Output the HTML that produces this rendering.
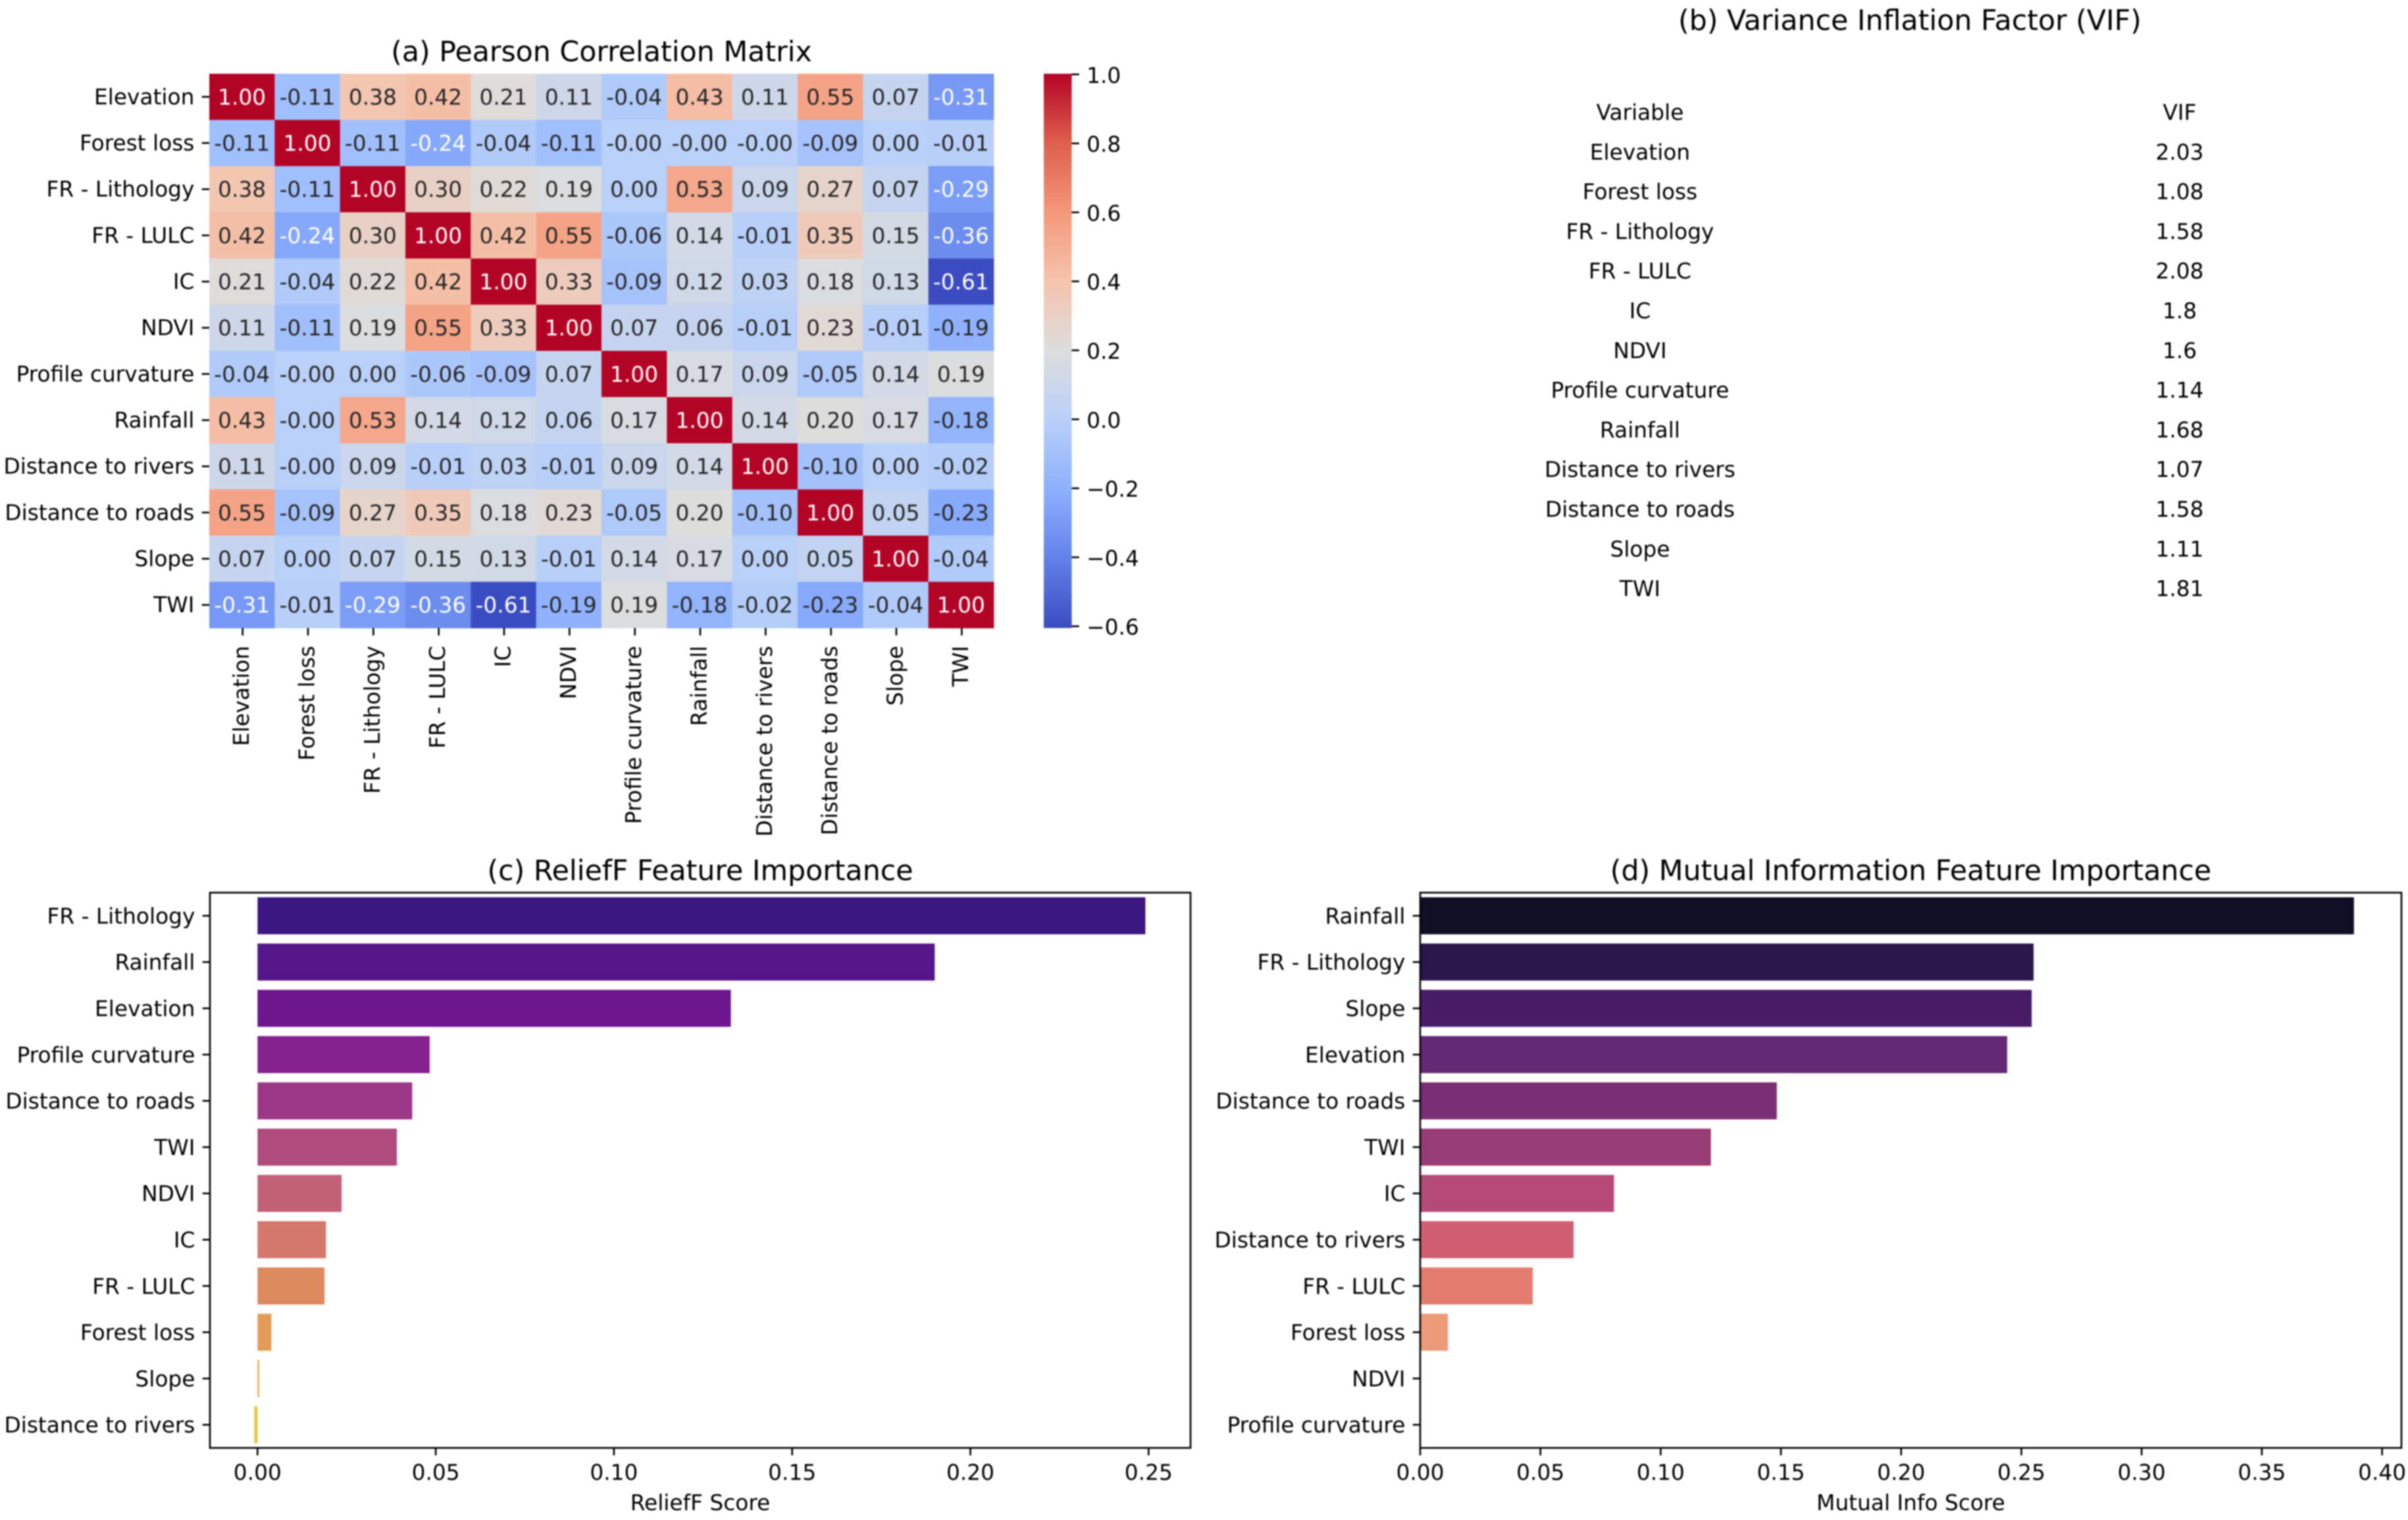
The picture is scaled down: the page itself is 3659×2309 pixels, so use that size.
<!DOCTYPE html>
<html lang="en">
<head>
<meta charset="utf-8">
<title>Feature selection diagnostics</title>
<style>
  html, body { margin: 0; padding: 0; background: #ffffff; }
  #figure { display: block; width: 3659px; height: 2309px; filter: blur(1px); }
  text { font-family: "DejaVu Sans", "Liberation Sans", sans-serif; fill: #000000; }
</style>
</head>
<body>
<svg id="figure" xmlns="http://www.w3.org/2000/svg" width="3659" height="2309" viewBox="0 0 3659 2309">
  <rect x="0" y="0" width="3659" height="2309" fill="#ffffff"/>
  <defs>
    <linearGradient id="coolwarm-gradient" x1="0" y1="1" x2="0" y2="0"></linearGradient>
  </defs>
  <g id="panel-a">
    <text x="914" y="93" font-size="42.7" text-anchor="middle">(a) Pearson Correlation Matrix</text>
  </g>
  <g id="panel-b">
    <text x="2902" y="45.5" font-size="42.7" text-anchor="middle">(b) Variance Inflation Factor (VIF)</text>
  </g>
  <g id="panel-c">
    <text x="1064" y="1337" font-size="42.7" text-anchor="middle">(c) ReliefF Feature Importance</text>
    <text x="1064" y="2294" font-size="32.8" text-anchor="middle">ReliefF Score</text>
  </g>
  <g id="panel-d">
    <text x="2903.5" y="1337" font-size="42.7" text-anchor="middle">(d) Mutual Information Feature Importance</text>
    <text x="2903.5" y="2294" font-size="32.8" text-anchor="middle">Mutual Info Score</text>
  </g>
</svg>
<script>
// ---------- Data ----------
const heatmapLabels = ["Elevation", "Forest loss", "FR - Lithology", "FR - LULC", "IC", "NDVI", "Profile curvature", "Rainfall", "Distance to rivers", "Distance to roads", "Slope", "TWI"];
const corrElevation = [1.00, -0.11, 0.38, 0.42, 0.21, 0.11, -0.04, 0.43, 0.11, 0.55, 0.07, -0.31];
const corrForestLoss = [-0.11, 1.00, -0.11, -0.24, -0.04, -0.11, -0.001, -0.001, -0.001, -0.09, 0.00, -0.01];
const corrLithology = [0.38, -0.11, 1.00, 0.30, 0.22, 0.19, 0.00, 0.53, 0.09, 0.27, 0.07, -0.29];
const corrLulc = [0.42, -0.24, 0.30, 1.00, 0.42, 0.55, -0.06, 0.14, -0.01, 0.35, 0.15, -0.36];
const corrIc = [0.21, -0.04, 0.22, 0.42, 1.00, 0.33, -0.09, 0.12, 0.03, 0.18, 0.13, -0.607];
const corrNdvi = [0.11, -0.11, 0.19, 0.55, 0.33, 1.00, 0.07, 0.06, -0.01, 0.23, -0.01, -0.19];
const corrProfile = [-0.04, -0.001, 0.00, -0.06, -0.09, 0.07, 1.00, 0.17, 0.09, -0.05, 0.14, 0.19];
const corrRainfall = [0.43, -0.001, 0.53, 0.14, 0.12, 0.06, 0.17, 1.00, 0.14, 0.20, 0.17, -0.18];
const corrRivers = [0.11, -0.001, 0.09, -0.01, 0.03, -0.01, 0.09, 0.14, 1.00, -0.10, 0.00, -0.02];
const corrRoads = [0.55, -0.09, 0.27, 0.35, 0.18, 0.23, -0.05, 0.20, -0.10, 1.00, 0.05, -0.23];
const corrSlope = [0.07, 0.00, 0.07, 0.15, 0.13, -0.01, 0.14, 0.17, 0.00, 0.05, 1.00, -0.04];
const corrTwi = [-0.31, -0.01, -0.29, -0.36, -0.607, -0.19, 0.19, -0.18, -0.02, -0.23, -0.04, 1.00];
const corrMatrix = [corrElevation, corrForestLoss, corrLithology, corrLulc, corrIc, corrNdvi, corrProfile, corrRainfall, corrRivers, corrRoads, corrSlope, corrTwi];
const colorbarTicks = [1.0, 0.8, 0.6, 0.4, 0.2, 0.0, -0.2, -0.4, -0.6];

const vifVariables = ["Elevation", "Forest loss", "FR - Lithology", "FR - LULC", "IC", "NDVI", "Profile curvature", "Rainfall", "Distance to rivers", "Distance to roads", "Slope", "TWI"];
const vifValues = [2.03, 1.08, 1.58, 2.08, 1.8, 1.6, 1.14, 1.68, 1.07, 1.58, 1.11, 1.81];

const reliefFeatures = ["FR - Lithology", "Rainfall", "Elevation", "Profile curvature", "Distance to roads", "TWI", "NDVI", "IC", "FR - LULC", "Forest loss", "Slope", "Distance to rivers"];
const reliefScores = [0.2491, 0.1900, 0.1328, 0.0483, 0.0434, 0.0391, 0.0236, 0.0192, 0.0188, 0.0039, 0.0005, -0.0009];
const reliefTicks = [0.00, 0.05, 0.10, 0.15, 0.20, 0.25];

const miFeatures = ["Rainfall", "FR - Lithology", "Slope", "Elevation", "Distance to roads", "TWI", "IC", "Distance to rivers", "FR - LULC", "Forest loss", "NDVI", "Profile curvature"];
const miScores = [0.3883, 0.2551, 0.2543, 0.2441, 0.1483, 0.1209, 0.0806, 0.0638, 0.0468, 0.0115, 0, 0];
const miTicks = [0.00, 0.05, 0.10, 0.15, 0.20, 0.25, 0.30, 0.35, 0.40];

// ---------- Colours ----------
const coolwarmStops = [[59,76,192],[98,130,234],[141,176,254],[184,208,249],[221,221,221],[245,196,173],[244,152,122],[222,96,77],[180,4,38]];
const reliefPalette = ["#3c1781","#55168a","#6d168e","#84218c","#9c3785","#af4b7d","#c16177","#d4776d","#dc8960","#e19d57","#e6b34e","#e2c63f"];
const miPalette = ["#100f25","#2b174a","#481c66","#632874","#7b2f74","#993b75","#b54a75","#d05e70","#e27c6e","#ec9a78","#f2b98a","#f5d9a5"];

// ---------- Layout constants ----------
const FONT = 32.8, TICK = 11.3, PAD = 11.3, STROKE = 2.6, TEXT_MID = 11.3;
const HEAT = { left: 318, right: 1510, top: 112, bottom: 954 };
const CBAR = { left: 1586, right: 1628.5, top: 112, bottom: 954 };
const BARS_TOP = 1356, BARS_BOTTOM = 2199.5;
const RELIEF_AX = { left: 319, right: 1809, zeroPx: 391.3, pxPerUnit: 5416 };
const MI_AX = { left: 2158, right: 3649, zeroPx: 2158, pxPerUnit: 3654 };
const VIF_X_NAME = 2492, VIF_X_VALUE = 3312, VIF_TOP = 182, VIF_STEP = 60.3;

// ---------- Helpers ----------
const NS = "http://www.w3.org/2000/svg";
function shape(parent, tag, geometry) {
  const el = document.createElementNS(NS, tag);
  for (const key in geometry) el.setAttribute(key, geometry[key]);
  parent.appendChild(el);
  return el;
}
function label(parent, x, y, content, anchor, size) {
  const el = shape(parent, "text", { x: x, y: y, "font-size": size || FONT, "text-anchor": anchor || "middle" });
  el.textContent = content;
  return el;
}
function tickMark(parent, x1, y1, x2, y2) {
  return shape(parent, "line", { x1: x1, y1: y1, x2: x2, y2: y2, stroke: "#000000", "stroke-width": STROKE });
}
function coolwarm(t) {
  const c = Math.max(0, Math.min(1, t)) * (coolwarmStops.length - 1);
  const i = Math.min(Math.floor(c), coolwarmStops.length - 2);
  const f = c - i;
  return coolwarmStops[i].map(function (v, k) { return v + (coolwarmStops[i + 1][k] - v) * f; });
}
function luminance(rgb) {
  const lin = rgb.map(function (v) {
    const s = v / 255;
    return s <= 0.03928 ? s / 12.92 : Math.pow((s + 0.055) / 1.055, 2.4);
  });
  return 0.2126 * lin[0] + 0.7152 * lin[1] + 0.0722 * lin[2];
}
function css(rgb) { return "rgb(" + rgb.map(Math.round).join(",") + ")"; }

// ---------- Panel (a): heatmap ----------
const panelA = document.getElementById("panel-a");
const vmin = Math.min.apply(null, corrMatrix.map(function (r) { return Math.min.apply(null, r); }));
const vmax = Math.max.apply(null, corrMatrix.map(function (r) { return Math.max.apply(null, r); }));
const heatCols = heatmapLabels.length;
const cellW = (HEAT.right - HEAT.left) / heatCols;
const cellH = (HEAT.bottom - HEAT.top) / heatCols;
function heatX(col) { return HEAT.left + col * cellW; }
function heatY(row) { return HEAT.top + row * cellH; }
function heatColorT(v) { return (v - vmin) / (vmax - vmin); }

corrMatrix.forEach(function (rowValues, r) {
  rowValues.forEach(function (v, c) {
    const rgb = coolwarm(heatColorT(v));
    const cell = shape(panelA, "rect", { x: heatX(c), y: heatY(r), width: cellW + 0.4, height: cellH + 0.4, fill: css(rgb) });
    
    
  });
});
corrMatrix.forEach(function (rowValues, r) {
  rowValues.forEach(function (v, c) {
    const rgb = coolwarm(heatColorT(v));
    const txt = label(panelA, heatX(c) + cellW / 2, heatY(r) + cellH / 2 + TEXT_MID + 0.5, v.toFixed(2));
    txt.style.fill = luminance(rgb) < 0.405 ? "#ffffff" : "#262626";
    
    
  });
});
heatmapLabels.forEach(function (name, i) {
  const yc = heatY(i) + cellH / 2;
  const yTick = tickMark(panelA, HEAT.left, yc, HEAT.left - TICK, yc);
  
  
  const yLabel = label(panelA, HEAT.left - TICK - PAD, yc + TEXT_MID, name, "end");
  
  

  const xc = heatX(i) + cellW / 2 + 1;
  const xTick = tickMark(panelA, xc, HEAT.bottom, xc, HEAT.bottom + TICK);
  
  
  const xLabel = label(panelA, 0, 0, name, "end");
  xLabel.setAttribute("transform", "translate(" + (xc + 9.5) + "," + (HEAT.bottom + 27) + ") rotate(-90)");
  
  
});

// colour bar
const gradient = document.getElementById("coolwarm-gradient");
coolwarmStops.forEach(function (stop, i) {
  shape(gradient, "stop", { offset: i / (coolwarmStops.length - 1), "stop-color": css(stop) });
});
function cbarY(v) { return CBAR.bottom - (v - vmin) / (vmax - vmin) * (CBAR.bottom - CBAR.top); }
const cbarRect = shape(panelA, "rect", { x: CBAR.left, y: CBAR.top, width: CBAR.right - CBAR.left, height: CBAR.bottom - CBAR.top, fill: "url(#coolwarm-gradient)" });


colorbarTicks.forEach(function (v) {
  const y = cbarY(v) + 1;
  const t = tickMark(panelA, CBAR.right, y, CBAR.right + TICK, y);
  
  
  const l = label(panelA, CBAR.right + TICK + PAD, y + TEXT_MID + 1.5, v.toFixed(1).replace("-", "\u2212"), "start");
  
  
});

// ---------- Panel (b): VIF table ----------
const panelB = document.getElementById("panel-b");
const headName = label(panelB, VIF_X_NAME, VIF_TOP, "Variable");


const headValue = label(panelB, VIF_X_VALUE, VIF_TOP, "VIF");


vifVariables.forEach(function (name, i) {
  const y = VIF_TOP + (i + 1) * VIF_STEP;
  const nameCell = label(panelB, VIF_X_NAME, y, name);
  
  
  const valueCell = label(panelB, VIF_X_VALUE, y, String(vifValues[i]));
  
  
});

// ---------- Panels (c), (d): bar charts ----------
function drawBarPanel(panelId, prefix, ax, features, scores, ticks, palette) {
  const panel = document.getElementById(panelId);
  const rowH = (BARS_BOTTOM - BARS_TOP) / features.length;
  function xScale(v) { return ax.zeroPx + v * ax.pxPerUnit; }
  function yScale(i) { return BARS_TOP + (i + 0.5) * rowH; }

  scores.forEach(function (v, i) {
    const x0 = xScale(Math.min(0, v));
    const x1 = xScale(Math.max(0, v));
    const bar = shape(panel, "rect", { x: x0, y: yScale(i) - rowH * 0.4, width: x1 - x0, height: rowH * 0.8, fill: palette[i] });
    
    
  });
  features.forEach(function (name, i) {
    const y = yScale(i);
    const t = tickMark(panel, ax.left, y, ax.left - TICK, y);
    
    
    const l = label(panel, ax.left - TICK - PAD, y + TEXT_MID + 0.5, name, "end");
    
    
  });
  ticks.forEach(function (v) {
    const x = xScale(v);
    const t = tickMark(panel, x, BARS_BOTTOM, x, BARS_BOTTOM + TICK);
    
    
    const l = label(panel, x, 2248, v.toFixed(2));
    
    
  });
  const frame = shape(panel, "rect", { x: ax.left, y: BARS_TOP, width: ax.right - ax.left, height: BARS_BOTTOM - BARS_TOP, fill: "none", stroke: "#000000", "stroke-width": STROKE });
  
  
}
drawBarPanel("panel-c", "relieff", RELIEF_AX, reliefFeatures, reliefScores, reliefTicks, reliefPalette);
drawBarPanel("panel-d", "mutual-info", MI_AX, miFeatures, miScores, miTicks, miPalette);
</script>
</body>
</html>
